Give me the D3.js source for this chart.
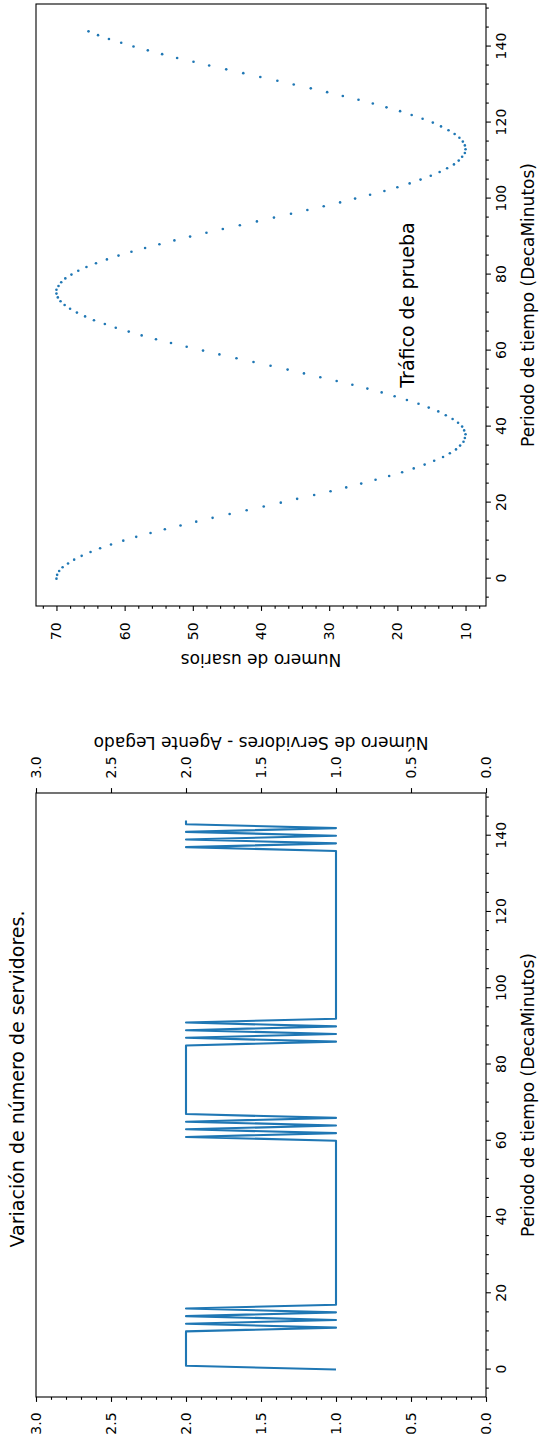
<!DOCTYPE html>
<html>
<head>
<meta charset="utf-8">
<script src="https://cdn.jsdelivr.net/npm/d3@7"></script>
<style>
  body { margin: 0; background: #fff; }
  text { font-family: "DejaVu Sans", sans-serif; }
</style>
</head>
<body>
<div id="chart"></div>
<script>
// Usuarios por periodo (t = 0..144)
const usuarios = [
  70.0, 69.9, 69.6, 69.1, 68.3, 67.4, 66.3, 65.0, 63.6, 62.0,
  60.2, 58.3, 56.2, 54.1, 51.8, 49.5, 47.1, 44.6, 42.1, 39.6,
  37.1, 34.7, 32.2, 29.8, 27.5, 25.3, 23.2, 21.2, 19.3, 17.6,
  16.0, 14.6, 13.3, 12.3, 11.4, 10.8, 10.3, 10.1, 10.0, 10.2,
  10.5, 11.1, 11.9, 12.9, 14.0, 15.4, 16.9, 18.6, 20.4, 22.3,
  24.4, 26.6, 28.9, 31.3, 33.7, 36.1, 38.6, 41.1, 43.6, 46.1,
  48.5, 50.9, 53.2, 55.4, 57.5, 59.4, 61.3, 62.9, 64.5, 65.8,
  67.0, 68.0, 68.8, 69.4, 69.8, 70.0, 70.0, 69.7, 69.3, 68.7,
  67.8, 66.8, 65.6, 64.2, 62.6, 60.9, 59.0, 57.0, 54.9, 52.7,
  50.4, 48.0, 45.6, 43.1, 40.6, 38.1, 35.6, 33.2, 30.8, 28.4,
  26.2, 24.0, 21.9, 20.0, 18.2, 16.6, 15.1, 13.8, 12.7, 11.7,
  11.0, 10.5, 10.1, 10.0, 10.1, 10.4, 10.9, 11.6, 12.5, 13.6,
  14.8, 16.3, 17.9, 19.6, 21.6, 23.6, 25.7, 28.0, 30.3, 32.7,
  35.2, 37.6, 40.1, 42.6, 45.1, 47.6, 49.9, 52.3, 54.5, 56.6,
  58.7, 60.5, 62.3, 63.9, 65.3
];

// Numero de servidores por periodo (t = 0..144)
const servidores = [
  1, 2, 2, 2, 2, 2, 2, 2, 2, 2,
  2, 1, 2, 1, 2, 1, 2, 1, 1, 1,
  1, 1, 1, 1, 1, 1, 1, 1, 1, 1,
  1, 1, 1, 1, 1, 1, 1, 1, 1, 1,
  1, 1, 1, 1, 1, 1, 1, 1, 1, 1,
  1, 1, 1, 1, 1, 1, 1, 1, 1, 1,
  1, 2, 1, 2, 1, 2, 1, 2, 2, 2,
  2, 2, 2, 2, 2, 2, 2, 2, 2, 2,
  2, 2, 2, 2, 2, 2, 1, 2, 1, 2,
  1, 2, 1, 1, 1, 1, 1, 1, 1, 1,
  1, 1, 1, 1, 1, 1, 1, 1, 1, 1,
  1, 1, 1, 1, 1, 1, 1, 1, 1, 1,
  1, 1, 1, 1, 1, 1, 1, 1, 1, 1,
  1, 1, 1, 1, 1, 1, 1, 2, 1, 2,
  1, 2, 1, 2, 2
];

const ticksTiempo = [0, 20, 40, 60, 80, 100, 120, 140];
const ticksUsuarios = [10, 20, 30, 40, 50, 60, 70];
const ticksServidores = [0, 0.5, 1.0, 1.5, 2.0, 2.5, 3.0];

const azul = "#1f77b4";
const tickLen = 4.9, minorLen = 2.8;

// the figure is drawn landscape (1441 x 539) and turned 90 degrees
const svg = d3.select("#chart").append("svg")
  .attr("width", 539)
  .attr("height", 1441);
svg.append("rect").attr("width", 539).attr("height", 1441).attr("fill", "#fff");

const g = svg.append("g").attr("transform", "translate(0,1441) rotate(-90)");

const axServ = { x0: 44, x1: 648, y0: 36, y1: 486 };
const axTraf = { x0: 835, x1: 1437, y0: 36, y1: 486 };

const xServ = d3.scaleLinear().domain([-7.2, 151.2]).range([axServ.x0, axServ.x1]);
const xTraf = d3.scaleLinear().domain([-7.2, 151.2]).range([axTraf.x0, axTraf.x1]);
const yServ = d3.scaleLinear().domain([0, 3]).range([axServ.y1, axServ.y0]);
const yTraf = d3.scaleLinear().domain([7, 73]).range([axTraf.y1, axTraf.y0]);

function styleAxis(sel) {
  sel.select(".domain").remove();
  sel.attr("font-size", 14).attr("font-family", "DejaVu Sans").attr("color", "#000");
  sel.selectAll("line").attr("stroke-width", 1.1);
}

function minor(axisFn, scale, values, transform) {
  g.append("g")
    .attr("transform", transform)
    .call(axisFn(scale).tickValues(values).tickSize(minorLen).tickFormat(""))
    .call(styleAxis);
}

const minorTiempo = d3.range(-5, 152, 5).filter(v => v % 20 !== 0);

// ---- Servidores (izquierda en la figura original)
g.append("path")
  .datum(servidores)
  .attr("fill", "none")
  .attr("stroke", azul)
  .attr("stroke-width", 2.1)
  .attr("stroke-linejoin", "round")
  .attr("d", d3.line().x((d, i) => xServ(i)).y(d => yServ(d)));

g.append("g")
  .attr("transform", `translate(0,${axServ.y1})`)
  .call(d3.axisBottom(xServ).tickValues(ticksTiempo).tickSize(tickLen).tickPadding(5).tickSizeOuter(0))
  .call(styleAxis);
minor(d3.axisBottom, xServ, minorTiempo, `translate(0,${axServ.y1})`);

g.append("g")
  .attr("transform", `translate(${axServ.x0},0)`)
  .call(d3.axisLeft(yServ).tickValues(ticksServidores).tickFormat(d3.format(".1f"))
    .tickSize(tickLen).tickPadding(10.5).tickSizeOuter(0))
  .call(styleAxis);
minor(d3.axisLeft, yServ,
  d3.range(0, 31).filter(k => k % 5 !== 0).map(k => k / 10),
  `translate(${axServ.x0},0)`);

g.append("g")
  .attr("transform", `translate(${axServ.x1},0)`)
  .call(d3.axisRight(yServ).tickValues(ticksServidores).tickFormat(d3.format(".1f"))
    .tickSize(tickLen).tickPadding(9.5).tickSizeOuter(0))
  .call(styleAxis);

g.append("rect")
  .attr("x", axServ.x0).attr("y", axServ.y0)
  .attr("width", axServ.x1 - axServ.x0).attr("height", axServ.y1 - axServ.y0)
  .attr("fill", "none").attr("stroke", "#000").attr("stroke-width", 1.1);

g.append("text")
  .attr("x", 362).attr("y", 24)
  .attr("text-anchor", "middle")
  .attr("font-size", 19)
  .text("Variación de número de servidores.");

g.append("text")
  .attr("x", (axServ.x0 + axServ.x1) / 2).attr("y", 534)
  .attr("text-anchor", "middle")
  .attr("font-size", 17)
  .text("Periodo de tiempo (DecaMinutos)");

g.append("text")
  .attr("transform", `translate(704,${(axServ.y0 + axServ.y1) / 2}) rotate(-90)`)
  .attr("text-anchor", "middle")
  .attr("font-size", 17)
  .text("Número de Servidores - Agente Legado");

// ---- Trafico (derecha en la figura original)
g.append("g")
  .selectAll("circle")
  .data(usuarios)
  .join("circle")
  .attr("cx", (d, i) => xTraf(i))
  .attr("cy", d => yTraf(d))
  .attr("r", 1.3)
  .attr("fill", azul);

g.append("g")
  .attr("transform", `translate(0,${axTraf.y1})`)
  .call(d3.axisBottom(xTraf).tickValues(ticksTiempo).tickSize(tickLen).tickPadding(5).tickSizeOuter(0))
  .call(styleAxis);
minor(d3.axisBottom, xTraf, minorTiempo, `translate(0,${axTraf.y1})`);

g.append("g")
  .attr("transform", `translate(${axTraf.x0},0)`)
  .call(d3.axisLeft(yTraf).tickValues(ticksUsuarios).tickSize(tickLen).tickPadding(11.5).tickSizeOuter(0))
  .call(styleAxis);
minor(d3.axisLeft, yTraf, d3.range(8, 73, 2).filter(v => v % 10 !== 0), `translate(${axTraf.x0},0)`);

g.append("rect")
  .attr("x", axTraf.x0).attr("y", axTraf.y0)
  .attr("width", axTraf.x1 - axTraf.x0).attr("height", axTraf.y1 - axTraf.y0)
  .attr("fill", "none").attr("stroke", "#000").attr("stroke-width", 1.1);

g.append("text")
  .attr("x", (axTraf.x0 + axTraf.x1) / 2).attr("y", 414)
  .attr("text-anchor", "middle")
  .attr("font-size", 19)
  .text("Tráfico de prueba");

g.append("text")
  .attr("x", (axTraf.x0 + axTraf.x1) / 2).attr("y", 534)
  .attr("text-anchor", "middle")
  .attr("font-size", 17)
  .text("Periodo de tiempo (DecaMinutos)");

g.append("text")
  .attr("transform", `translate(787,${(axTraf.y0 + axTraf.y1) / 2}) rotate(-90)`)
  .attr("text-anchor", "middle")
  .attr("font-size", 17)
  .text("Numero de usarios");
</script>
</body>
</html>
